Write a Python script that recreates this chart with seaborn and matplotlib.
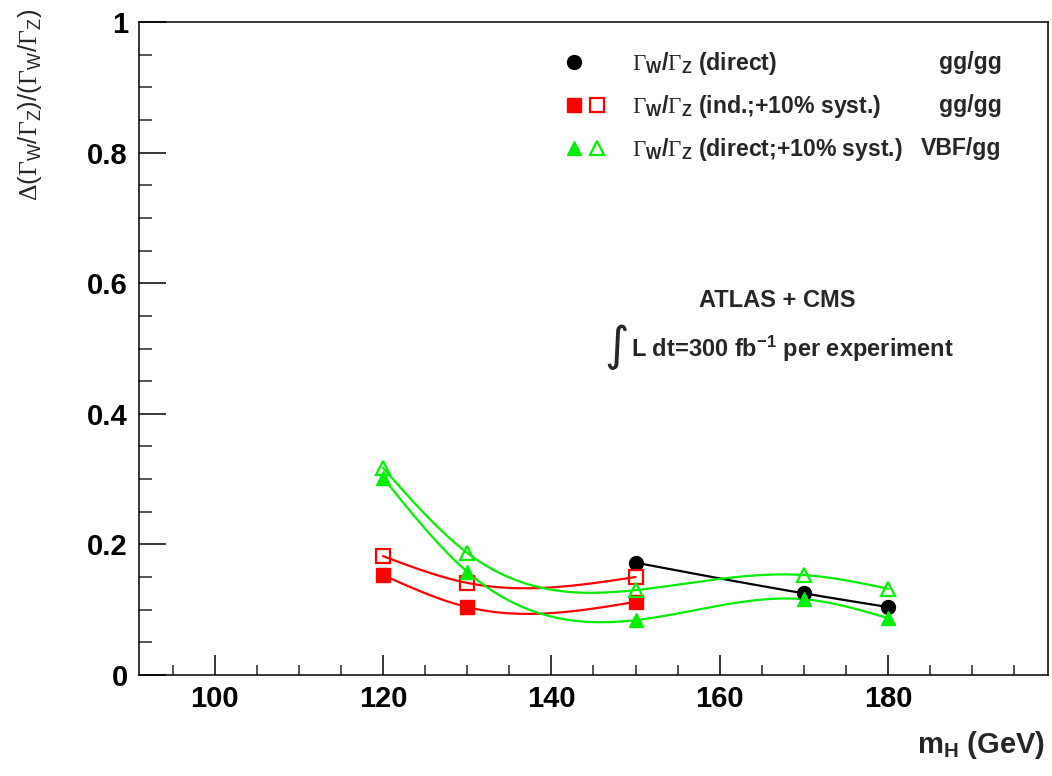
import numpy as np
import pandas as pd
import seaborn as sns
import matplotlib
matplotlib.use("Agg")
import matplotlib.pyplot as plt
from matplotlib.lines import Line2D
from matplotlib.legend_handler import HandlerTuple
from matplotlib.ticker import MultipleLocator

# ---------------- data ----------------
mass_direct = [150, 170, 180]
ratio_direct = [0.172, 0.125, 0.104]

mass_ind = [120, 130, 150]
ratio_ind = [0.153, 0.104, 0.112]
ratio_ind_syst = [0.182, 0.141, 0.150]

mass_vbf = [120, 130, 150, 170, 180]
ratio_vbf = [0.302, 0.158, 0.084, 0.116, 0.087]
ratio_vbf_syst = [0.317, 0.187, 0.130, 0.153, 0.132]

x_ticks = [100, 120, 140, 160, 180]
y_ticks = [0, 0.2, 0.4, 0.6, 0.8, 1.0]
y_tick_labels = ["0", "0.2", "0.4", "0.6", "0.8", "1"]

GWZ = r"$\mathsf{\Gamma}_{\mathbf{W}}\mathbf{/}\mathsf{\Gamma}_{\mathbf{Z}}$"
legend_labels = [
    GWZ + " (direct)",
    GWZ + " (ind.;+10% syst.)",
    GWZ + " (direct;+10% syst.)",
]
production_labels = ["gg/gg", "gg/gg", "VBF/gg"]


def natural_spline(x, y, n=300):
    """Smooth curve through the points (natural cubic spline) for drawing."""
    x = np.asarray(x, float)
    y = np.asarray(y, float)
    k = len(x)
    h = np.diff(x)
    A = np.zeros((k, k))
    b = np.zeros(k)
    A[0, 0] = A[-1, -1] = 1.0
    for i in range(1, k - 1):
        A[i, i - 1] = h[i - 1]
        A[i, i] = 2 * (h[i - 1] + h[i])
        A[i, i + 1] = h[i]
        b[i] = 6 * ((y[i + 1] - y[i]) / h[i] - (y[i] - y[i - 1]) / h[i - 1])
    M = np.linalg.solve(A, b)
    xs = np.linspace(x[0], x[-1], n)
    idx = np.clip(np.searchsorted(x, xs) - 1, 0, k - 2)
    x0, x1 = x[idx], x[idx + 1]
    hh = x1 - x0
    t0 = x1 - xs
    t1 = xs - x0
    ys = (M[idx] * t0 ** 3 / (6 * hh) + M[idx + 1] * t1 ** 3 / (6 * hh)
          + (y[idx] / hh - M[idx] * hh / 6) * t0
          + (y[idx + 1] / hh - M[idx + 1] * hh / 6) * t1)
    return xs, ys


# ---------------- style ----------------
sns.set_theme(style="white")
plt.rcParams["font.family"] = ["Liberation Sans", "DejaVu Sans"]
plt.rcParams["mathtext.fontset"] = "custom"
plt.rcParams["mathtext.rm"] = "Liberation Sans"
plt.rcParams["mathtext.it"] = "Liberation Sans:italic"
plt.rcParams["mathtext.bf"] = "Liberation Sans:bold"
plt.rcParams["mathtext.sf"] = "Liberation Serif"

RED = "#ff0000"
GREEN = "#00ee00"

fig = plt.figure(figsize=(10.52, 7.76), dpi=100)
ax = fig.add_axes([0.1321, 0.1302, 0.8641, 0.8414])

# ---------------- curves ----------------
series = [
    (mass_direct, ratio_direct, "black"),
    (mass_ind, ratio_ind, RED),
    (mass_ind, ratio_ind_syst, RED),
    (mass_vbf, ratio_vbf, GREEN),
    (mass_vbf, ratio_vbf_syst, GREEN),
]
for xs_, ys_, col in series:
    sx, sy = natural_spline(xs_, ys_)
    df = pd.DataFrame({"m": sx, "r": sy})
    sns.lineplot(data=df, x="m", y="r", color=col, lw=1.6, ax=ax,
                 estimator=None, sort=False, zorder=2)

# ---------------- markers ----------------
ax.plot(mass_direct, ratio_direct, ls="none", marker="o", ms=10,
        color="black", zorder=4)
ax.plot(mass_ind, ratio_ind, ls="none", marker="s", ms=9.5,
        color=RED, zorder=4)
ax.plot(mass_ind, ratio_ind_syst, ls="none", marker="s", ms=9.5,
        mfc="none", mec=RED, mew=1.6, zorder=4)
ax.plot(mass_vbf, ratio_vbf, ls="none", marker="^", ms=10,
        color=GREEN, zorder=4)
ax.plot(mass_vbf, ratio_vbf_syst, ls="none", marker="^", ms=10,
        mfc="none", mec=GREEN, mew=1.6, zorder=4)

# ---------------- axes ----------------
ax.set_xlim(91, 199)
ax.set_ylim(0, 1)
ax.set_xticks(x_ticks)
ax.set_xticklabels([str(v) for v in x_ticks], fontweight="bold")
ax.xaxis.set_minor_locator(MultipleLocator(5))
ax.set_yticks(y_ticks)
ax.set_yticklabels(y_tick_labels, fontweight="bold")
ax.yaxis.set_minor_locator(MultipleLocator(0.05))

ax.tick_params(axis="y", which="major", direction="in", length=19.5,
               width=1.1, left=True, right=False, pad=8, labelsize=21,
               colors="black")
ax.tick_params(axis="y", which="minor", direction="in", length=9.5,
               width=1.1, left=True, right=False)
ax.tick_params(axis="x", which="major", direction="in", length=14.4,
               width=1.1, bottom=True, top=False, pad=7, labelsize=21,
               colors="black")
ax.tick_params(axis="x", which="minor", direction="in", length=7.2,
               width=1.1, bottom=True, top=False)
for sp in ax.spines.values():
    sp.set_visible(True)
    sp.set_color("black")
    sp.set_linewidth(1.1)
ax.grid(False)

ax.set_xlabel(r"$\mathbf{m}_{\mathbf{H}}$ (GeV)", fontsize=21,
              fontweight="bold", loc="right")
ax.xaxis.set_label_coords(0.9967, -0.083)
ax.set_ylabel(
    r"$\mathsf{\Delta}(\mathsf{\Gamma}_{\mathrm{W}}/\mathsf{\Gamma}_{\mathrm{Z}})"
    r"/(\mathsf{\Gamma}_{\mathrm{W}}/\mathsf{\Gamma}_{\mathrm{Z}})$",
    fontsize=18.5, fontweight="normal", loc="top")
ax.yaxis.set_label_coords(-0.105, 1.02)

# ---------------- legend ----------------
blank = Line2D([], [], ls="none")
h1 = (Line2D([], [], ls="none", marker="o", ms=10, color="black"), blank)
h2 = (Line2D([], [], ls="none", marker="s", ms=9.5, color=RED),
      Line2D([], [], ls="none", marker="s", ms=9.5, mfc="none", mec=RED, mew=1.6))
h3 = (Line2D([], [], ls="none", marker="^", ms=10, color=GREEN),
      Line2D([], [], ls="none", marker="^", ms=10, mfc="none", mec=GREEN, mew=1.6))
ax.legend([h1, h2, h3], legend_labels,
          handler_map={tuple: HandlerTuple(ndivide=None, pad=0)},
          loc="upper left", bbox_to_anchor=(0.4653, 0.9574),
          frameon=False, prop={"size": 16.6, "weight": "bold"},
          handlelength=2.05, handletextpad=1.0, labelspacing=0.7,
          borderpad=0, borderaxespad=0)

for lab, yy in zip(production_labels, [0.928, 0.862, 0.7963]):
    ax.text(0.949, yy, lab, transform=ax.transAxes, ha="right",
            va="baseline", fontsize=16.6, fontweight="bold")

# ---------------- annotation ----------------
ax.text(0.702, 0.5636, "ATLAS + CMS", transform=ax.transAxes, ha="center",
        va="baseline", fontsize=17, fontweight="bold")
ax.text(0.5390, 0.5023, "\u222b", transform=ax.transAxes, ha="right",
        va="center", fontsize=34, fontweight="normal",
        family=["DejaVu Sans"])
ax.text(0.541, 0.487, r"L dt=300 fb$^{\mathbf{-1}}$ per experiment",
        transform=ax.transAxes, ha="left", va="baseline", fontsize=17,
        fontweight="bold")

fig.savefig("out.png", dpi=100)
